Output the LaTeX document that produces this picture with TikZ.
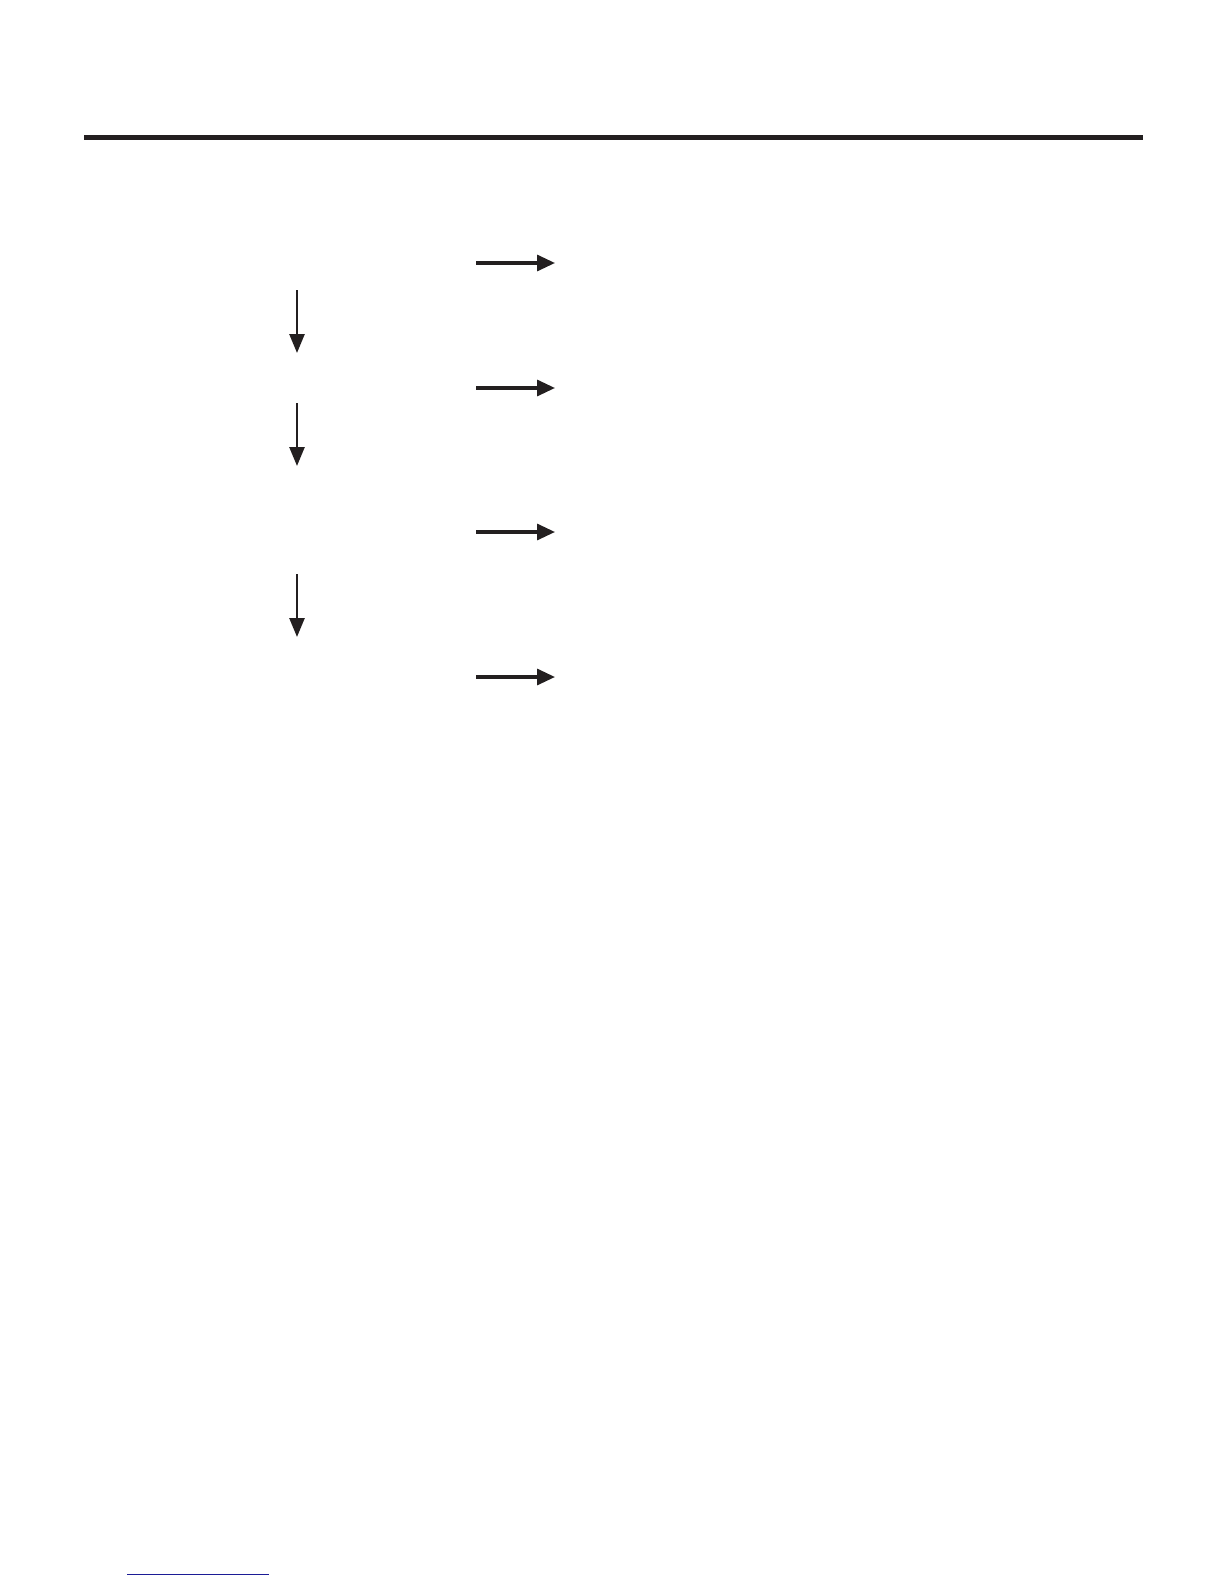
\documentclass[tikz,border=0pt]{standalone}
\usetikzlibrary{arrows.meta}
\definecolor{ink}{RGB}{35,31,32}
\definecolor{linkblue}{RGB}{28,28,150}
\begin{document}
\begin{tikzpicture}[x=1pt,y=-1pt,
  flowarrow/.style={draw=ink,line width=3.2pt,-{Triangle[length=18pt,width=16pt]}},
  downarrow/.style={draw=ink,line width=2.6pt,-{Triangle[length=19pt,width=15pt]}},
  toprule/.style={draw=ink,line width=4.5pt},
  footrule/.style={draw=linkblue,line width=1.3pt}]
\useasboundingbox[fill=white] (0,0) rectangle (1224,1584);
% top rule
\coordinate (r1) at (84,137.7);
\coordinate (r2) at (1143,137.7);
\draw[toprule] (r1) -- (r2);
% horizontal arrows
\foreach \i/\y in {1/263,2/388,3/532,4/677}{
  \coordinate (hs\i) at (476,\y);
  \coordinate (he\i) at (555,\y);
  \draw[flowarrow] (hs\i) -- (he\i);
}
% vertical arrows
\foreach \i/\a/\b in {1/290/353,2/403/466,3/574/637}{
  \coordinate (vs\i) at (297,\a);
  \coordinate (ve\i) at (297,\b);
  \draw[downarrow] (vs\i) -- (ve\i);
}
% footer rule
\coordinate (f1) at (127,1574.5);
\coordinate (f2) at (269,1574.5);
\draw[footrule] (f1) -- (f2);
\end{tikzpicture}
\end{document}
